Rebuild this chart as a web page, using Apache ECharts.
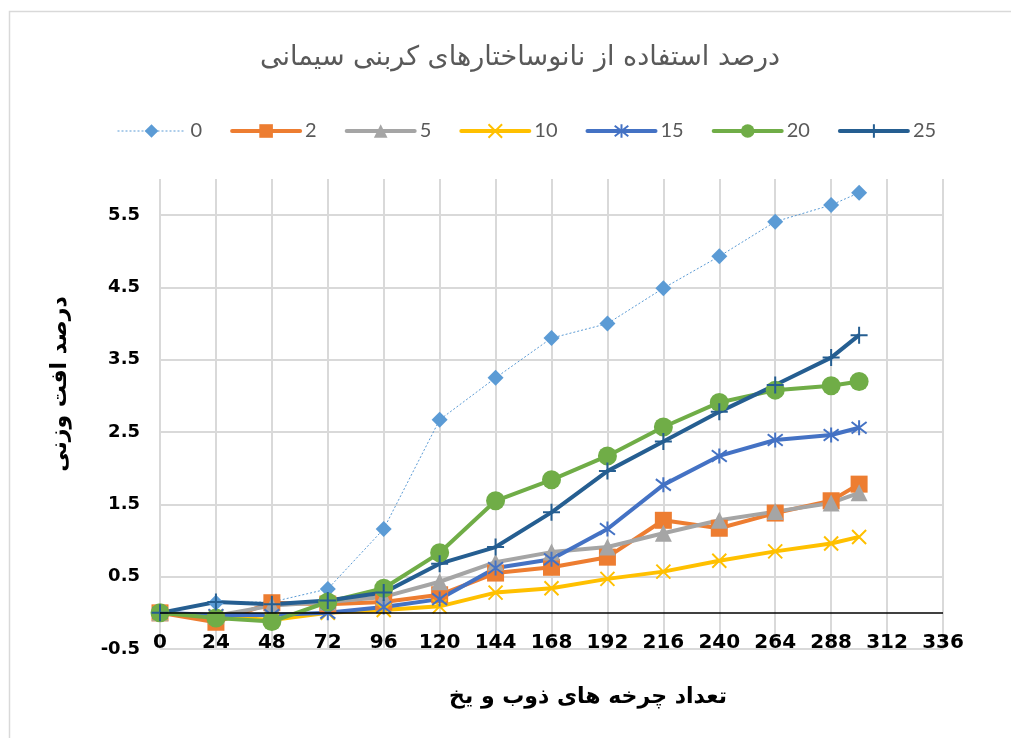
<!DOCTYPE html>
<html>
<head>
<meta charset="utf-8">
<script src="https://cdn.jsdelivr.net/npm/echarts@6/dist/echarts.min.js"></script>
<style>
  html, body { margin: 0; padding: 0; background: #ffffff; }
  #chart { width: 1011px; height: 738px; }
</style>
</head>
<body>
<div id="chart"></div>
<script>
// Freeze–thaw cycles (x) and weight loss percentage (y) for each nanomaterial dosage
const cycles = [0, 24, 48, 72, 96, 120, 144, 168, 192, 216, 240, 264, 288, 300];
const seriesNames = ['0', '2', '5', '10', '15', '20', '25'];
const loss0  = [0, 0.14, 0.15, 0.33, 1.16, 2.67, 3.25, 3.80, 4.00, 4.49, 4.93, 5.41, 5.64, 5.81];
const loss2  = [0, -0.13, 0.14, 0.12, 0.15, 0.25, 0.55, 0.63, 0.77, 1.28, 1.17, 1.38, 1.55, 1.78];
const loss5  = [0, -0.04, 0.10, 0.15, 0.22, 0.43, 0.70, 0.84, 0.91, 1.10, 1.28, 1.40, 1.52, 1.66];
const loss10 = [0, -0.05, -0.10, 0.00, 0.04, 0.09, 0.28, 0.34, 0.47, 0.57, 0.72, 0.85, 0.96, 1.05];
const loss15 = [0, -0.03, -0.03, 0.00, 0.08, 0.19, 0.62, 0.74, 1.16, 1.77, 2.17, 2.39, 2.46, 2.56];
const loss20 = [0, -0.07, -0.12, 0.15, 0.34, 0.83, 1.55, 1.84, 2.17, 2.57, 2.91, 3.08, 3.14, 3.20];
const loss25 = [0, 0.15, 0.12, 0.17, 0.28, 0.68, 0.91, 1.39, 1.96, 2.37, 2.78, 3.15, 3.53, 3.84];

const titleText = 'درصد استفاده از نانوساختارهای کربنی سیمانی';
const xName = 'تعداد چرخه های ذوب و یخ';
const yName = 'درصد افت وزنی';

const pairs = arr => cycles.map((c, i) => [c, arr[i]]);

// Stroke-only marker shapes
const SYM_X = 'path://M0,0L10,10M10,0L0,10';
const SYM_STAR = 'path://M0,0L10,10M10,0L0,10M5,-1.5L5,11.5';
const SYM_PLUS = 'path://M5,0L5,10M0,5L10,5';

const LINE_W = 4;

function makeSeries(name, values, color, opts) {
  return Object.assign({
    name: name,
    type: 'line',
    data: pairs(values),
    symbol: 'circle',
    symbolSize: 12,
    showAllSymbol: true,
    lineStyle: { color: color, width: LINE_W },
    itemStyle: { color: color },
    emphasis: { disabled: true },
    animation: false
  }, opts);
}

const series = [
  makeSeries('0', loss0, '#5B9BD5', {
    symbol: 'diamond', symbolSize: 16,
    lineStyle: { color: '#5B9BD5', width: 1, type: [2, 2] },
    markLine: {
      silent: true, symbol: 'none', label: { show: false },
      lineStyle: { color: '#000000', width: 1.5, type: 'solid' },
      data: [{ yAxis: 0 }], animation: false
    }
  }),
  makeSeries('2', loss2, '#ED7D31', { symbol: 'rect', symbolSize: 17 }),
  makeSeries('5', loss5, '#A5A5A5', { symbol: 'triangle', symbolSize: 17 }),
  makeSeries('10', loss10, '#FFC000', {
    symbol: SYM_X, symbolSize: 14,
    itemStyle: { color: '#FFC000', borderColor: '#FFC000', borderWidth: 2 }
  }),
  makeSeries('15', loss15, '#4472C4', {
    symbol: SYM_STAR, symbolSize: 15,
    itemStyle: { color: '#4472C4', borderColor: '#4472C4', borderWidth: 2 }
  }),
  makeSeries('20', loss20, '#70AD47', { symbol: 'circle', symbolSize: 19 }),
  makeSeries('25', loss25, '#255E91', {
    symbol: SYM_PLUS, symbolSize: 17,
    itemStyle: { color: '#255E91', borderColor: '#255E91', borderWidth: 2 }
  })
];

// Legend entries with their line styles
const legendColors = ['#5B9BD5', '#ED7D31', '#A5A5A5', '#FFC000', '#4472C4', '#70AD47', '#255E91'];
const legendData = seriesNames.map((n, i) => ({
  name: n,
  lineStyle: i === 0
    ? { color: legendColors[i], width: 1, type: [2, 2] }
    : { color: legendColors[i], width: LINE_W, cap: 'round' }
}));

const chart = echarts.init(document.getElementById('chart'), null, { renderer: 'canvas' });

chart.setOption({
  backgroundColor: '#ffffff',
  animation: false,
  title: {
    text: titleText,
    left: 515, top: 39, textAlign: 'center',
    textStyle: { fontFamily: 'DejaVu Sans', fontSize: 27, fontWeight: 'normal', color: '#595959' }
  },
  legend: {
    data: legendData,
    left: 112, top: 116,
    itemWidth: 68, itemHeight: 17, itemGap: 28,
    textStyle: { fontFamily: 'Lato', fontSize: 20, color: '#595959', padding: [0, 0, 0, 0] }
  },
  grid: { left: 160, right: 68, top: 179, bottom: 89, containLabel: false },
  xAxis: {
    type: 'value',
    min: 0, max: 336, interval: 24,
    axisLine: { show: false },
    axisTick: { show: false },
    axisLabel: {
      margin: -16,
      fontFamily: 'DejaVu Sans', fontSize: 20, fontWeight: 'bold', color: '#000000'
    },
    splitLine: { show: true, lineStyle: { color: '#d9d9d9', width: 2 } }
  },
  yAxis: {
    type: 'value',
    min: -0.5, max: 6, interval: 0.5,
    axisLine: { show: false },
    axisTick: { show: false },
    axisLabel: {
      margin: 20,
      fontFamily: 'DejaVu Sans', fontSize: 18, fontWeight: 'bold', color: '#000000',
      formatter: v => (Math.abs(v % 1) === 0.5 ? v.toFixed(1) : '')
    },
    splitLine: { show: true, lineStyle: { color: ['#d9d9d9', 'rgba(0,0,0,0)'], width: 2 } }
  },
  graphic: [
    {
      type: 'rect', silent: true, z: -1,
      shape: { x: 9.5, y: 11.5, width: 1100, height: 900 },
      style: { fill: 'none', stroke: '#d9d9d9', lineWidth: 1.5 }
    },
    {
      type: 'text', silent: true,
      x: 588, y: 697,
      style: {
        text: xName, align: 'center', verticalAlign: 'middle',
        font: 'bold 22px "DejaVu Sans"', fill: '#000000'
      }
    },
    {
      type: 'text', silent: true,
      x: 60, y: 384, rotation: Math.PI / 2,
      style: {
        text: yName, align: 'center', verticalAlign: 'middle',
        font: 'bold 22px "DejaVu Sans"', fill: '#000000'
      }
    }
  ],
  series: series
});
</script>
</body>
</html>
